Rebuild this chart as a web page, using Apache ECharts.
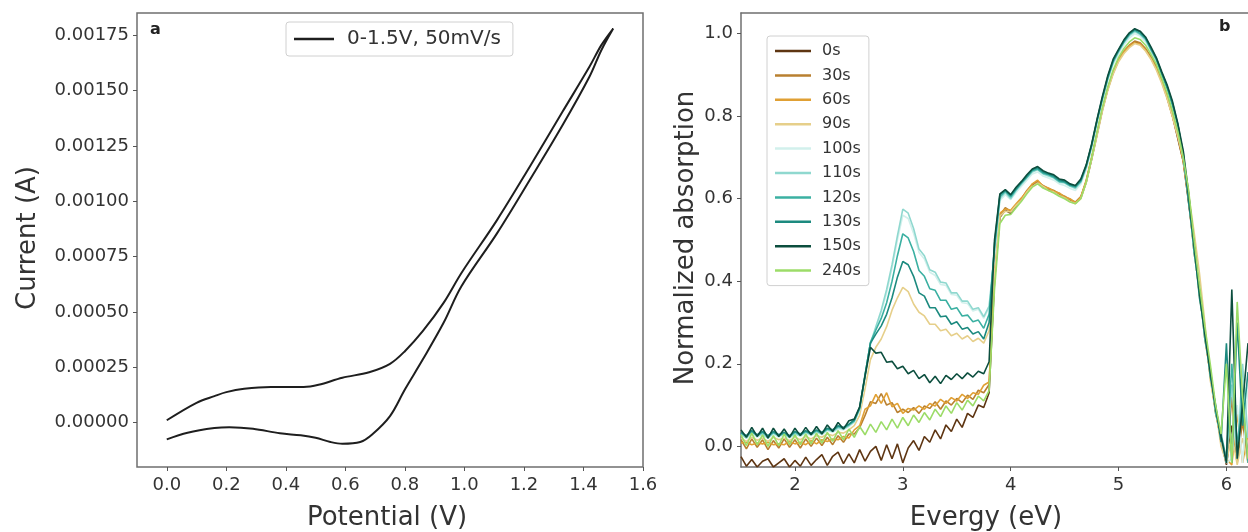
<!DOCTYPE html>
<html>
<head>
<meta charset="utf-8">
<script src="https://cdn.jsdelivr.net/npm/echarts@6/dist/echarts.min.js"></script>
<style>
html,body{margin:0;padding:0;background:#fff;}
#c{width:1248px;height:532px;}
</style>
</head>
<body>
<div id="c"></div>
<script>
// ---------- Panel a: cyclic voltammogram ----------
const cvLegend = '0-1.5V, 50mV/s';
const potentialLower = [0.00,0.07,0.16,0.21,0.29,0.38,0.45,0.50,0.55,0.59,0.65,0.69,0.75,0.80,0.86,0.93,0.99,1.11,1.22,1.33,1.42,1.46,1.50];
const currentLower = [-0.000075,-0.000045,-0.000024,-0.000020,-0.000027,-0.000048,-0.000057,-0.000068,-0.000087,-0.000095,-0.000087,-0.000053,0.000030,0.000150,0.000285,0.000451,0.000616,0.000856,0.001097,0.001344,0.001562,0.001682,0.001780];
const potentialUpper = [1.50,1.46,1.42,1.33,1.22,1.11,0.99,0.93,0.86,0.80,0.75,0.68,0.59,0.51,0.46,0.35,0.26,0.20,0.16,0.10,0.00];
const currentUpper = [0.001780,0.001705,0.001607,0.001405,0.001157,0.000916,0.000676,0.000541,0.000413,0.000323,0.000266,0.000228,0.000203,0.000171,0.000161,0.000161,0.000153,0.000138,0.000120,0.000090,0.000011];
const cvXTicks = [0.0,0.2,0.4,0.6,0.8,1.0,1.2,1.4,1.6];
const cvYTicks = [0,0.00025,0.0005,0.00075,0.001,0.00125,0.0015,0.00175];

// ---------- Panel b: absorption spectra ----------
const energy = [1.50,1.55,1.60,1.65,1.70,1.75,1.80,1.85,1.90,1.95,2.00,2.05,2.10,2.15,2.20,2.25,2.30,2.35,2.40,2.45,2.50,2.55,2.60,2.65,2.70,2.75,2.80,2.85,2.90,2.95,3.00,3.05,3.10,3.15,3.20,3.25,3.30,3.35,3.40,3.45,3.50,3.55,3.60,3.65,3.70,3.75,3.80,3.85,3.90,3.95,4.00,4.05,4.10,4.15,4.20,4.25,4.30,4.35,4.40,4.45,4.50,4.55,4.60,4.65,4.70,4.75,4.80,4.85,4.90,4.95,5.00,5.05,5.10,5.15,5.20,5.25,5.30,5.35,5.40,5.45,5.50,5.55,5.60,5.65,5.70,5.75,5.80,5.85,5.90,5.95,6.00,6.05,6.10,6.15,6.20];
const times = ['0s','30s','60s','90s','100s','110s','120s','130s','150s','240s'];
const colors = ['#5e3512','#b98030','#e0a034','#e6cf8a','#d2f0ec','#8fd8cf','#3bb0a2','#1c8a7f','#0c4e3e','#9cdc68'];
const abs0s = [-0.025,-0.048,-0.032,-0.050,-0.036,-0.030,-0.050,-0.040,-0.030,-0.050,-0.034,-0.048,-0.026,-0.046,-0.032,-0.020,-0.046,-0.024,-0.014,-0.042,-0.018,-0.040,-0.008,-0.036,-0.012,0.000,-0.034,0.004,-0.030,0.006,-0.040,-0.004,0.014,-0.010,0.024,0.010,0.040,0.018,0.052,0.036,0.066,0.046,0.080,0.070,0.100,0.094,0.130,
 0.400,0.555,0.572,0.565,0.582,0.598,0.615,0.632,0.640,0.628,0.622,0.618,0.610,0.604,0.596,0.590,0.602,0.640,0.695,0.755,0.815,0.865,0.905,0.935,0.955,0.970,0.980,0.976,0.962,0.942,0.918,0.885,0.845,0.800,0.745,0.690,0.590,0.480,0.370,0.270,0.175,0.085,0.015,-0.045,0.050,-0.040,0.100,-0.030];
const abs30s = [0.016,-0.006,0.018,-0.002,0.016,-0.008,0.014,-0.004,0.018,-0.002,0.016,-0.004,0.018,0.000,0.020,0.002,0.022,0.004,0.026,0.010,0.030,0.030,0.045,0.075,0.108,0.104,0.128,0.100,0.106,0.082,0.090,0.082,0.094,0.080,0.098,0.092,0.108,0.090,0.110,0.100,0.116,0.106,0.124,0.114,0.136,0.130,0.150,
 0.410,0.560,0.578,0.570,0.585,0.600,0.620,0.635,0.642,0.632,0.625,0.620,0.612,0.606,0.598,0.592,0.605,0.642,0.698,0.758,0.818,0.868,0.908,0.938,0.958,0.972,0.982,0.978,0.964,0.944,0.920,0.888,0.850,0.805,0.755,0.695,0.600,0.470,0.380,0.260,0.180,0.090,0.010,-0.040,0.120,-0.035,0.060,-0.040];
const abs60s = [0.008,0.010,0.004,0.008,0.006,0.010,0.004,0.006,0.004,0.012,0.006,0.010,0.004,0.014,0.006,0.016,0.012,0.018,0.016,0.024,0.020,0.040,0.050,0.090,0.098,0.126,0.104,0.130,0.096,0.104,0.080,0.092,0.088,0.098,0.090,0.104,0.098,0.114,0.104,0.118,0.110,0.126,0.116,0.130,0.126,0.148,0.156,
 0.415,0.565,0.575,0.572,0.588,0.602,0.618,0.636,0.645,0.630,0.626,0.618,0.614,0.604,0.600,0.590,0.604,0.645,0.700,0.760,0.820,0.866,0.906,0.936,0.956,0.970,0.978,0.975,0.960,0.940,0.915,0.884,0.846,0.800,0.750,0.690,0.595,0.485,0.365,0.275,0.170,0.080,0.020,-0.030,-0.045,0.080,-0.040,0.030];
const abs90s = [0.020,0.012,0.022,0.015,0.020,0.012,0.022,0.016,0.020,0.014,0.022,0.016,0.024,0.018,0.026,0.022,0.030,0.026,0.034,0.032,0.040,0.050,0.075,0.140,0.210,0.240,0.260,0.290,0.330,0.360,0.385,0.375,0.345,0.325,0.316,0.296,0.296,0.280,0.284,0.268,0.274,0.260,0.268,0.254,0.262,0.250,0.280,
 0.420,0.558,0.570,0.568,0.584,0.596,0.616,0.630,0.638,0.630,0.620,0.616,0.608,0.602,0.594,0.588,0.600,0.638,0.694,0.752,0.812,0.862,0.902,0.932,0.952,0.966,0.976,0.972,0.958,0.938,0.912,0.880,0.842,0.798,0.750,0.700,0.610,0.520,0.420,0.300,0.160,0.090,0.000,-0.040,0.030,-0.045,0.020,-0.040];
const abs100s = [0.028,0.020,0.030,0.022,0.028,0.020,0.030,0.022,0.028,0.020,0.030,0.024,0.032,0.026,0.034,0.028,0.038,0.034,0.042,0.040,0.048,0.058,0.088,0.165,0.245,0.285,0.325,0.372,0.432,0.500,0.560,0.552,0.516,0.470,0.454,0.422,0.414,0.392,0.390,0.368,0.366,0.348,0.346,0.328,0.332,0.310,0.336,
 0.465,0.595,0.610,0.598,0.615,0.630,0.645,0.660,0.665,0.655,0.650,0.645,0.636,0.632,0.625,0.620,0.635,0.670,0.720,0.780,0.835,0.885,0.925,0.950,0.972,0.990,1.000,0.994,0.980,0.956,0.930,0.896,0.866,0.826,0.770,0.700,0.600,0.480,0.370,0.270,0.180,0.090,0.020,-0.040,-0.030,0.100,-0.040,0.150];
const abs110s = [0.030,0.020,0.035,0.025,0.030,0.020,0.032,0.025,0.030,0.022,0.030,0.026,0.034,0.028,0.036,0.030,0.040,0.036,0.045,0.042,0.050,0.060,0.090,0.170,0.250,0.290,0.330,0.380,0.440,0.510,0.575,0.565,0.528,0.478,0.462,0.428,0.422,0.398,0.396,0.372,0.372,0.352,0.352,0.332,0.336,0.314,0.340,
 0.470,0.600,0.615,0.600,0.620,0.635,0.650,0.665,0.670,0.660,0.655,0.650,0.640,0.638,0.630,0.625,0.640,0.675,0.725,0.785,0.840,0.890,0.930,0.955,0.978,0.995,1.005,0.998,0.985,0.960,0.935,0.900,0.870,0.830,0.775,0.705,0.600,0.480,0.370,0.270,0.180,0.090,0.020,-0.040,0.150,-0.030,0.200,0.020];
const abs120s = [0.032,0.024,0.036,0.026,0.034,0.024,0.034,0.026,0.032,0.024,0.034,0.028,0.036,0.030,0.038,0.032,0.042,0.038,0.048,0.044,0.052,0.062,0.092,0.172,0.252,0.282,0.310,0.348,0.400,0.462,0.515,0.505,0.472,0.426,0.412,0.382,0.378,0.354,0.354,0.332,0.336,0.316,0.318,0.302,0.306,0.286,0.320,
 0.480,0.605,0.618,0.604,0.622,0.638,0.652,0.668,0.672,0.662,0.658,0.652,0.642,0.640,0.632,0.628,0.642,0.678,0.728,0.788,0.842,0.892,0.932,0.958,0.980,0.998,1.008,1.000,0.988,0.962,0.938,0.902,0.868,0.826,0.780,0.700,0.610,0.470,0.380,0.260,0.190,0.080,0.030,-0.030,0.200,0.000,0.120,-0.040];
const abs130s = [0.034,0.026,0.038,0.028,0.036,0.026,0.036,0.028,0.034,0.026,0.036,0.030,0.038,0.032,0.040,0.034,0.044,0.040,0.050,0.046,0.054,0.064,0.094,0.174,0.250,0.272,0.292,0.320,0.360,0.410,0.448,0.440,0.412,0.372,0.364,0.336,0.336,0.314,0.316,0.296,0.302,0.284,0.288,0.272,0.278,0.260,0.300,
 0.490,0.610,0.620,0.608,0.625,0.640,0.655,0.670,0.675,0.665,0.660,0.655,0.645,0.642,0.634,0.630,0.645,0.680,0.730,0.790,0.845,0.895,0.935,0.960,0.982,1.000,1.010,1.004,0.990,0.965,0.940,0.905,0.872,0.832,0.778,0.710,0.590,0.490,0.360,0.280,0.170,0.100,0.010,0.250,-0.040,0.300,0.050,0.180];
const abs150s = [0.040,0.022,0.046,0.024,0.044,0.020,0.044,0.024,0.042,0.022,0.044,0.026,0.046,0.028,0.048,0.030,0.052,0.036,0.058,0.042,0.062,0.066,0.096,0.170,0.240,0.226,0.228,0.204,0.206,0.188,0.194,0.176,0.184,0.164,0.174,0.154,0.170,0.152,0.172,0.162,0.176,0.164,0.178,0.168,0.182,0.176,0.205,
 0.500,0.612,0.622,0.610,0.628,0.642,0.658,0.672,0.678,0.668,0.662,0.658,0.648,0.645,0.636,0.632,0.648,0.682,0.732,0.792,0.848,0.898,0.938,0.962,0.985,1.002,1.012,1.006,0.992,0.968,0.942,0.908,0.876,0.836,0.782,0.716,0.612,0.488,0.376,0.274,0.184,0.094,0.024,-0.040,0.380,-0.030,0.100,0.250];
const abs240s = [0.028,0.002,0.032,0.004,0.028,0.000,0.026,0.002,0.030,0.004,0.028,0.004,0.030,0.006,0.032,0.008,0.034,0.012,0.038,0.016,0.042,0.022,0.048,0.028,0.054,0.034,0.060,0.040,0.066,0.044,0.070,0.050,0.076,0.058,0.082,0.064,0.090,0.072,0.098,0.080,0.106,0.088,0.112,0.098,0.122,0.110,0.135,
 0.380,0.540,0.560,0.562,0.578,0.594,0.612,0.628,0.636,0.626,0.620,0.614,0.606,0.600,0.592,0.588,0.600,0.640,0.698,0.760,0.820,0.870,0.912,0.942,0.964,0.980,0.990,0.986,0.972,0.950,0.926,0.892,0.856,0.812,0.762,0.700,0.620,0.500,0.390,0.290,0.200,0.100,0.030,0.200,-0.040,0.350,0.120,-0.030];
const absSeries = [abs0s,abs30s,abs60s,abs90s,abs100s,abs110s,abs120s,abs130s,abs150s,abs240s];
const absXTicks = [2,3,4,5,6];
const absYTicks = [0.0,0.2,0.4,0.6,0.8,1.0];

// ---------- build ----------
const FONT = 'DejaVu Sans';
const TXT = '#333';
const FRAME = '#6f6f6f';
const chart = echarts.init(document.getElementById('c'), null, {renderer:'canvas'});

const cvData = potentialLower.map((v,i)=>[v,currentLower[i]])
  .concat(potentialUpper.map((v,i)=>[v,currentUpper[i]]));

const series = [{
  name: cvLegend, type:'line', xAxisIndex:0, yAxisIndex:0,
  data: cvData, symbol:'none', smooth:0.35,
  lineStyle:{color:'#1e1e1e', width:2}, itemStyle:{color:'#1e1e1e'}, animation:false
}];
absSeries.forEach((arr,k)=>{
  series.push({
    name: times[k], type:'line', xAxisIndex:1, yAxisIndex:1,
    data: energy.map((e,i)=>[e,arr[i]]), symbol:'none',
    lineStyle:{color:colors[k], width:1.6}, itemStyle:{color:colors[k]},
    animation:false
  });
});

function axisCfg(kind, idx, min, max, ticks, fmt, showLine){
  const a = {
    type:'value', gridIndex:idx, min:min, max:max,
    axisLine:{show:!!showLine, onZero:false, lineStyle:{color:FRAME, width:1.5}},
    axisTick:{show:true, inside:false, length:4, customValues:ticks, lineStyle:{color:'#555', width:1}},
    axisLabel:{customValues:ticks, formatter:fmt, color:TXT, fontFamily:FONT, fontSize:18, margin: kind==='x'?9:8},
    splitLine:{show:false}
  };
  if (kind==='x') a.position = 'bottom'; else a.position = 'left';
  return a;
}

const option = {
  backgroundColor:'#fff',
  animation:false,
  grid:[
    {left:137, top:13, width:506, height:454, show:true, borderColor:FRAME, borderWidth:1.5, backgroundColor:'transparent'},
    {left:741, top:13, width:507, height:454, show:false}
  ],
  xAxis:[
    axisCfg('x', 0, -0.1, 1.6, cvXTicks, v=>v.toFixed(1), false),
    axisCfg('x', 1, 1.5, 6.2, absXTicks, v=>String(Math.round(v)), true),
    {type:'value', gridIndex:1, min:1.5, max:6.2, position:'top',
     axisLine:{show:true, onZero:false, lineStyle:{color:FRAME, width:1.5}},
     axisTick:{show:false}, axisLabel:{show:false}, splitLine:{show:false}}
  ],
  yAxis:[
    axisCfg('y', 0, -0.0002, 0.00185, cvYTicks, v=>v.toFixed(5), false),
    axisCfg('y', 1, -0.05, 1.05, absYTicks, v=>v.toFixed(1), true)
  ],
  legend:[
    {
      data:[cvLegend], left:286, top:22, orient:'horizontal',
      icon:'rect', itemWidth:40, itemHeight:2.5, itemGap:10,
      padding:[7,12,7,8],
      borderColor:'#d0d0d0', borderWidth:1, borderRadius:3, backgroundColor:'rgba(255,255,255,0.8)',
      textStyle:{fontFamily:FONT, fontSize:20, color:TXT, padding:[0,0,0,8]}
    },
    {
      data:times, left:767, top:36, orient:'vertical',
      icon:'rect', itemWidth:36, itemHeight:2.5, itemGap:6.4,
      padding:[6,8,6,8],
      borderColor:'#d0d0d0', borderWidth:1, borderRadius:3, backgroundColor:'rgba(255,255,255,0.8)',
      textStyle:{fontFamily:FONT, fontSize:16, lineHeight:18, color:TXT, padding:[0,0,0,6]}
    }
  ],
  graphic:[
    {type:'text', left:150, top:22, style:{text:'a', font:'bold 16px "DejaVu Sans"', fill:'#222'}},
    {type:'text', left:1219, top:19, style:{text:'b', font:'bold 16px "DejaVu Sans"', fill:'#222'}},
    {type:'text', x:387, y:518, style:{text:'Potential (V)', font:'26px "DejaVu Sans"', fill:TXT, align:'center', verticalAlign:'middle'}},
    {type:'text', x:986, y:518, style:{text:'Evergy (eV)', font:'26px "DejaVu Sans"', fill:TXT, align:'center', verticalAlign:'middle'}},
    {type:'text', x:28, y:238, rotation:Math.PI/2, style:{text:'Current (A)', font:'26px "DejaVu Sans"', fill:TXT, align:'center', verticalAlign:'middle'}},
    {type:'text', x:686, y:238, rotation:Math.PI/2, style:{text:'Normalized absorption', font:'26px "DejaVu Sans"', fill:TXT, align:'center', verticalAlign:'middle'}}
  ],
  series:series
};
chart.setOption(option);
</script>
</body>
</html>
